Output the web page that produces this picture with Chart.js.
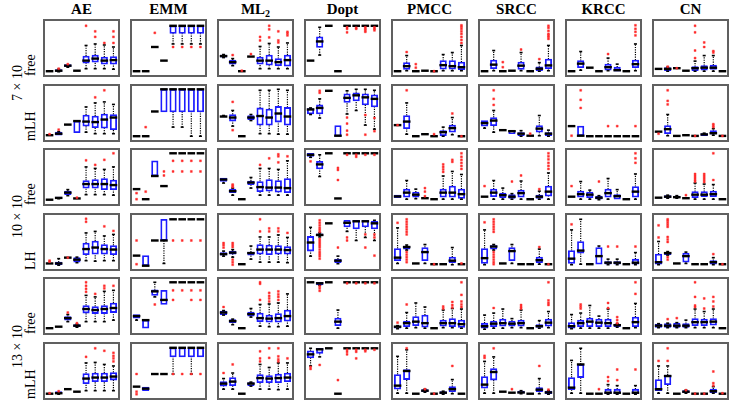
<!DOCTYPE html>
<html>
<head>
<meta charset="utf-8">
<script src="https://cdn.jsdelivr.net/npm/chart.js@4/dist/chart.umd.min.js"></script>
<style>
  body { margin: 0; background: #fff; width: 737px; height: 407px; position: relative; overflow: hidden;
         font-family: "Liberation Serif", "DejaVu Serif", serif; color: #000; }
  .panel { position: absolute; width: 77px; height: 58px; box-sizing: border-box; border: 2px solid #606060; }
  .panel canvas { display: block; }
  .head { position: absolute; top: 1px; width: 87px; text-align: center; font-weight: bold; font-size: 15px; line-height: 16px; }
  .head sub { font-size: 10px; vertical-align: -3px; line-height: 0; }
  .side { position: absolute; font-size: 14px; line-height: 15px; white-space: nowrap;
          transform: rotate(-90deg); transform-origin: 0 0; }
</style>
</head>
<body>
<script>
const columns = ["AE", "EMM", "ML<sub>2</sub>", "Dopt", "PMCC", "SRCC", "KRCC", "CN"];
const rowLabels = ["free", "mLH", "free", "LH", "free", "mLH"];
const groupLabels = ["7 \u00d7 10", "10 \u00d7 10", "13 \u00d7 10"];
const slots = ["1", "2", "3", "4", "5", "6", "7", "8"];

// one box = [lo, q1, med, q3, hi, [outliers]]  or  [value, [outliers]] when all equal
const AE = [
  [[4], [3, 3.5, 5, 7, 8, [9]], [12, 13, 15, 17, 17, [18]], [5], [9, 20, 25, 34, 55, [94]], [9, 22, 29, 36, 58, [72, 83]], [9, 18, 25, 32, 56, [60]], [8, 18, 26, 33, 52, [60, 72, 83]]],
  [[6, [8]], [6, 6, 9, 12, 13, [17]], [27], [11, 11, 34, 34, 34], [12, 24, 33, 46, 62], [9, 21, 32, 44, 70, [81]], [9, 20, 37, 48, 72, [95]], [9, 17, 41, 47, 67]],
  [[5], [7, 7.5, 8.6, 10, 10], [13, 15, 19, 22, 25], [7.5, [9]], [15, 28, 36, 43, 70, [83]], [15, 28, 36, 45, 67, [74]], [15, 25, 36, 47, 65, [84]], [14, 25, 34, 44, 70, [97]]],
  [[7.5, [11, 13]], [4, 5, 7.5, 10, 17], [19, [19]], [9, 10, 15, 19, 20], [13, 25, 36, 48, 68, [90, 96]], [12, 26, 39, 52, 71], [13, 26, 36, 45, 62, [81]], [13, 25, 35, 43, 65, [72]]],
  [[6], [9], [19, 22, 26, 29, 33, [37]], [8, 9, 11, 13, 14, [16]], [19, 36, 44, 51, 71, [78, 84, 90, 97]], [19, 35, 42, 49, 68, [74]], [19, 35, 44, 51, 79, [85, 90]], [22, 37, 46, 56, 81, [90]]],
  [[5, [6]], [4, 5, 6, 9, 9, [10]], [14], [9], [11, 25, 35, 45, 66, [78]], [11, 29, 37, 46, 67, [95]], [11, 29, 37, 46, 63, [90]], [11, 32, 39, 47, 60, [69, 75, 80, 86]]]
];
const EMM = [
  [[4], [4], [52, [80]], [25], [58, 79, 94, 94, 94, [52]], [58, 79, 94, 94, 94, [52]], [58, 79, 94, 94, 94, [52]], [58, 79, 94, 94, 94, [52]]],
  [[4], [4, [22]], [53], [52, 52, 97, 97, 97], [22, 52, 97, 97, 97], [22, 52, 97, 97, 97], [4, 52, 97, 97, 97], [4, 52, 97, 97, 97]],
  [[26, [6, 18]], [6, [21]], [52, 52, 52, 82, 82], [32, [53, 61]], [97, [61, 82]], [97, [61, 82]], [97, [61, 82]], [97, [61, 82]]],
  [[23, [6, 53]], [3, 3, 3, 23, 23], [53], [7.5, 53, 53, 95, 95], [95, [53]], [95, [53]], [95, [53]], [95, [53]]],
  [[22, 26, 30, 33, 33], [6, 6, 22, 22, 22], [68, 71, 79, 82, 97, [53]], [53, 53, 62, 81, 81], [97, [62, 81]], [97, [81]], [97, [62, 81]], [97, [62, 81]]],
  [[19, [4, 9, 44]], [11, 11, 15, 18, 18], [44], [44], [44, 78, 96, 96, 96, [44]], [78, 78, 96, 96, 96, [44]], [44, 78, 96, 96, 96, [44]], [78, 78, 96, 96, 96, [44]]]
];
const ML2 = [
  [[31, 32, 34, 36, 37], [15, 18, 22, 26, 29, [36]], [4, [5]], [33, [38]], [9, 18, 25, 32, 53, [65, 72]], [9, 16, 25, 36, 59, [71, 87, 94]], [9, 15, 22, 29, 52, [61, 65, 83]], [9, 14, 26, 36, 60, [75, 79, 82]]],
  [[42, 42, 43, 44, 45], [24, 34, 41, 47, 55, [16, 72]], [4], [35, 37, 41, 45, 47], [9, 26, 44, 60, 95], [9, 26, 41, 58, 95], [8, 32, 49, 63, 97], [8, 26, 43, 61, 95]],
  [[38, 41, 45, 48, 48], [14, 19, 22, 26, 28, [30, 33, 35]], [6], [28, 35, 39, 42, 49], [14, 21, 30, 41, 67, [74]], [14, 22, 29, 45, 67, [87]], [14, 20, 29, 43, 65, [79, 91, 95]], [14, 19, 28, 47, 82, [91]]],
  [[22, 24, 26, 29, 32, [39, 44, 48]], [20, 26, 29, 32, 35, [5, 10, 15, 40, 44, 48]], [6], [16, 24, 28, 30, 42], [10, 26, 35, 45, 60, [71, 95]], [10, 25, 35, 44, 60, [71, 77]], [10, 26, 35, 43, 64, [71, 77]], [9, 26, 34, 41, 59, [68]]],
  [[32, 33, 37, 40, 41, [48]], [13, 17, 20, 23, 24], [6], [28, 30, 34, 38, 45], [10, 19, 26, 36, 53, [62, 94, 97]], [9, 18, 25, 32, 54, [59, 65, 70, 76]], [9, 18, 26, 35, 56, [62, 68, 73, 79]], [10, 20, 30, 42, 74]],
  [[14, 20, 25, 29, 35, [46]], [14, 21, 29, 37, 46, [63]], [5], [20, 21, 25, 27, 28], [14, 27, 36, 43, 63, [69, 75, 89]], [14, 27, 35, 41, 57, [76, 95]], [13, 27, 36, 44, 66, [69, 73, 79, 95]], [14, 29, 37, 46, 66, [75]]]
];
const Dopt = [
  [[25], [36, 51, 63, 72, 91], [94], [4], [94, [81, 88, 91]], [94, [88, 90]], [94, [82, 85, 88, 91]], [94, [85, 88, 91]]],
  [[47, 48, 57, 59, 60], [40, 48, 60, 66, 78, [90, 94]], [94], [4, 4, 5, 25, 25], [48, 71, 80, 88, 94, [7, 15, 29, 41]], [55, 74, 85, 90, 97], [26, 66, 81, 88, 97, [7, 46]], [18, 62, 78, 86, 95, [14, 40]]],
  [[89, 91, 94, 97, 97, [81]], [51, 66, 75, 81, 94], [97], [7.5, [44, 64, 68]], [97, [94]], [97, [90, 94]], [97, [94]], [97, [94]]],
  [[22, 32, 49, 61, 79], [60, 62, 64, 66, 68, [17, 22, 26, 30, 35, 40, 44, 48, 52, 56, 70, 74, 78, 83, 88, 93]], [87], [7, 9, 13, 16, 22, [39]], [71, 80, 88, 93, 93, [53, 59]], [53, 76, 91, 93, 93], [59, 80, 91, 93, 93, [39, 65]], [53, 76, 87, 91, 93, [23, 59, 65]]],
  [[97], [91, 92, 95, 97, 97, [80, 85, 89]], [97], [6, 11, 19, 26, 42], [97, [95]], [97, [95]], [97, [95]], [97, [95]]],
  [[60, 76, 83, 90, 95, [54, 58]], [78, 85, 93, 95, 95, [62]], [95], [5, [32]], [95, [83, 88, 92]], [95, [75, 88, 92]], [95, [89, 92]], [95, [92]]]
];
const PMCC = [
  [[4], [5, 7.5, 14, 21, 35, [42]], [4, [11, 18]], [5], [4, [4]], [5, 8, 16, 25, 37], [5, 8, 14, 25, 41], [5, 7, 12, 22, 55, [60, 66, 72, 78, 83, 88, 92, 95]]],
  [[26, [26]], [8, 19, 33, 45, 70, [95]], [4], [7, 7, 8, 9, 9], [4, [8]], [4, 5, 12, 15, 22], [7, 12, 20, 26, 41, [49]], [4, [4]]],
  [[9, 9, 11.5, 14, 14], [6, 10, 19, 26, 43], [7, 10, 15, 20, 26], [8, [12, 21, 28]], [6], [6, 10, 19, 26, 52, [60, 65, 70, 75]], [6, 10, 19, 32, 61, [80, 84]], [6, 7.5, 16, 26, 55, [66, 72, 78, 84, 90, 97]]],
  [[7.5, 13, 19, 37, 78, [88]], [34, 36, 40, 42, 44, [10, 15, 20, 25, 30, 65, 70, 75, 80, 85, 90, 95]], [7.5], [7.5, 13, 30, 39, 45], [6, [6]], [6], [5, 9, 13, 20, 39], [6, [7.5]]],
  [[5, 6, 9, 10, 11, [17]], [6, 9, 16, 20, 37, [53]], [7, 11, 19, 29, 56], [6, 8, 16, 32, 48], [6], [7, 10, 16, 22, 42, [45, 49]], [7, 9, 16, 25, 45, [47, 52, 58]], [6, 7.5, 14, 22, 44, [48, 53, 59, 72, 97]]],
  [[6, 14, 21, 43, 79], [6, 33, 50, 53, 92, [95]], [5], [8, 9, 11, 13, 14, [14]], [5, [5]], [4, 5, 7, 9, 10], [5, 9, 14, 19, 33, [60]], [5]]
];
const SRCC = [
  [[4], [5, 9, 17, 26, 45], [4, [12, 22]], [5], [5, 7.5, 15, 22, 41, [47]], [4], [4, 5, 9, 12.6, 21, [28]], [5, 9, 15.5, 28, 55, [68, 72, 75, 78, 84, 90, 94]]],
  [[20, 24, 30, 35, 35], [12, 25, 35, 41, 55, [66, 78, 95]], [16], [9, 9, 14, 15, 15], [4, 5, 9, 11, 15], [5, [9]], [5, 12, 19, 25, 45], [4, 5, 9, 11, 16]],
  [[11, [32]], [6, 11, 19, 26, 43], [6, 9, 14, 18, 28], [6, 7.5, 11, 15, 17, [41]], [6, 10, 18, 24, 42, [53]], [6], [6, 7.5, 11, 14, 22, [26]], [6, 12, 21, 32, 58, [66, 72, 78, 85, 91, 97]]],
  [[5, 7.5, 18, 37, 74, [89]], [34, 36, 41, 43, 45, [6, 10, 15, 20, 25, 30, 70, 75, 80, 85, 90, 95]], [7.5], [7.5, 13, 32, 39, 45], [6], [6], [6, 9, 14, 20, 36, [40]], [6, [6]]],
  [[4, 6, 10, 16, 32], [6, 9, 15, 20, 36, [46]], [6, 10, 16, 24, 44], [7, 10, 15, 20, 25], [7, 10, 16, 22, 42, [45, 48, 52]], [6], [6, 7.5, 10, 13, 21], [7, 10, 17, 24, 39, [52, 56, 61, 97]]],
  [[6, 16, 23, 39, 69, [76, 80]], [6, 32, 48, 55, 78, [95]], [9], [7, [14]], [5, 6, 7.5, 10, 11], [5], [5, 9, 13, 17, 35, [60]], [4, 5, 7.5, 10, 11, [13]]]
];
const KRCC = [
  [[4], [6, 11, 19, 25, 43], [11], [4], [5, 6, 12, 18, 30, [38]], [4, 4, 6, 12, 18], [4], [5, 11, 18, 26, 58, [75, 82, 88, 95]]],
  [[24, [5]], [5, 5, 5, 24, 24, [60, 76, 95]], [4], [4], [4, [24]], [4, [24]], [4], [4, [24]]],
  [[11, [32]], [6, 10, 16, 22, 41], [6, 9, 15, 20, 24], [5, 6, 9, 12, 13, [41]], [6, 10, 18, 26, 47], [6, 6, 12, 15, 25], [6], [6, 10, 21, 31, 56, [78, 87, 97]]],
  [[5, 7.5, 17, 33, 74, [85]], [6, 28, 33, 51, 95], [6], [6, 6, 22, 39, 42], [5, 6, 9, 11, 16, [41]], [5, 6, 9, 11, 16, [41]], [6], [5, 6, 9, 16, 29, [41]]],
  [[5, 6, 10, 17, 33], [6, 9, 16, 22, 36, [45, 49, 53]], [6, 9, 19, 26, 51], [6, 9, 17, 24, 30], [6, 9, 16, 24, 44, [46, 56]], [8, 9, 12, 14, 15, [16, 22, 28]], [6], [7, 9, 18, 28, 55, [74, 97]]],
  [[6, 13, 17, 37, 71], [6, 37, 63, 63, 95], [5], [5, [14]], [4, 5, 7, 14, 23, [30, 38]], [4, 5, 7, 14, 21, [32, 53]], [5], [4, 5, 7, 14, 21, [53]]]
];
const CN = [
  [[8.6], [4, 5, 8.6, 11, 12, [13]], [10, [10]], [5], [4, 5, 10, 13, 24, [30, 45, 81, 94]], [4, 6, 11, 15, 35, [52, 61]], [4, 7.5, 11, 16, 35, [41, 44]], [4]],
  [[13, [9]], [5, 9, 18, 25, 47, [67, 74, 95]], [4.6], [6], [4.6, [4.6]], [5, 5, 7.5, 9, 10], [6, 8, 10, 15, 19, [22, 25, 28]], [4.6, [4.6]]],
  [[9], [8, 9, 11, 13, 14], [8, 9, 10, 12, 13], [8, [14]], [6, 9, 15, 21, 38, [41, 44, 48, 52, 56]], [6, 11, 15, 21, 36, [40, 44, 48, 52, 56]], [6, 11, 16, 22, 35, [44, 97]], [6]],
  [[5, 6, 10, 26, 51, [59, 83]], [24, 25, 28, 29, 31, [15, 20, 50, 55, 60, 80, 84, 88, 92, 95]], [7.5], [7.5, 10, 22, 28, 30], [6], [6], [5, 6, 10, 13, 19, [26]], [6, [6]]],
  [[7, 7.5, 11, 14, 15], [7, 7.5, 11, 15, 16, [24]], [7, 7.5, 11, 16, 17, [26]], [7, 7.5, 11, 15, 22], [7, 11, 18, 25, 44, [48, 51, 68, 97]], [7, 11, 18, 24, 39, [45, 65]], [7, 12, 19, 25, 44, [49, 59, 68]], [6]],
  [[6, 11, 14, 33, 60, [70]], [6, 23, 40, 42, 60, [70, 95]], [5], [6, 7, 9, 11, 12, [12]], [5, [5]], [5, [5]], [6, 7, 10, 14, 19, [21, 26, 49]], [5, [6]]]
];
const panels = [AE, EMM, ML2, Dopt, PMCC, SRCC, KRCC, CN];

const colLeft = 43, colStep = 87;
const rowTop = 19, rowStep = 64.6;
const panelW = 77, panelH = 58;

function parseBox(b) {
  if (b.length <= 2) {
    let v = b[0];
    return { lo: v, q1: v, med: v, q3: v, hi: v, outs: b[1] || [], flat: true };
  }
  return { lo: b[0], q1: b[1], med: b[2], q3: b[3], hi: b[4], outs: b[5] || [], flat: false };
}

function addDiv(cls, html, left, top) {
  let d = document.createElement("div");
  d.className = cls;
  d.innerHTML = html;
  d.style.left = left + "px";
  d.style.top = top + "px";
  document.body.appendChild(d);
  return d;
}

function makePanel(left, top, boxes) {
  let wrap = addDiv("panel", "", left, top);
  let canvas = document.createElement("canvas");
  canvas.width = panelW - 4;
  canvas.height = panelH - 4;
  wrap.appendChild(canvas);

  let B = boxes.map(parseBox);
  let whisk = [], caps = [], meds = [], outs = [];
  let boxData = B.map((b) => (b.flat ? null : [b.q1, b.q3]));
  B.forEach((b, i) => {
    let x = slots[i];
    if (b.lo < b.q1) {
      whisk.push({ x: x, y: b.lo }, { x: x, y: b.q1 }, { x: x, y: null });
      caps.push({ x: x, y: b.lo });
    }
    if (b.hi > b.q3) {
      whisk.push({ x: x, y: b.q3 }, { x: x, y: b.hi }, { x: x, y: null });
      caps.push({ x: x, y: b.hi });
    }
    meds.push({ x: x, y: b.med });
    b.outs.forEach((v) => outs.push({ x: x, y: v }));
  });

  new Chart(canvas.getContext("2d"), {
    type: "bar",
    data: {
      labels: slots,
      datasets: [
        {
          type: "line",
          data: outs,
          showLine: false,
          pointStyle: "rect",
          pointRadius: 1.4,
          pointBackgroundColor: "#ff2a2a",
          pointBorderColor: "#ff2a2a",
          pointBorderWidth: 0.4,
          order: 0,
          clip: false,
        },
        {
          type: "line",
          data: meds,
          showLine: false,
          pointStyle: "line",
          pointRadius: 3.8,
          pointBorderColor: "#000",
          pointBorderWidth: 2.4,
          order: 1,
          clip: false,
        },
        {
          type: "line",
          data: caps,
          showLine: false,
          pointStyle: "line",
          pointRadius: 1.5,
          pointBorderColor: "#000",
          pointBorderWidth: 1.6,
          order: 2,
        },
        {
          data: boxData,
          backgroundColor: "#fff",
          borderColor: "#1c1cff",
          borderWidth: 1.8,
          borderSkipped: false,
          barThickness: 6.5,
          order: 3,
        },
        {
          type: "line",
          data: whisk,
          borderColor: "#000",
          borderWidth: 1.2,
          borderDash: [1.2, 1.2],
          pointRadius: 0,
          spanGaps: false,
          order: 4,
        },
      ],
    },
    options: {
      responsive: false,
      animation: false,
      events: [],
      layout: { padding: 0, autoPadding: false },
      plugins: { legend: { display: false }, tooltip: { enabled: false } },
      scales: {
        x: { type: "category", offset: true, display: false },
        y: { min: -3.5, max: 103.5, display: false },
      },
    },
  });
}

columns.forEach((name, c) => {
  addDiv("head", name, colLeft + c * colStep - 5, 1);
});

rowLabels.forEach((name, r) => {
  let bottom = rowTop + r * rowStep + panelH - 1;
  addDiv("side", name, 23, bottom);
});

let groupBottoms = [101, 238, 368];
groupLabels.forEach((name, g) => {
  addDiv("side", name, 10, groupBottoms[g]);
});

panels.forEach((col, c) => {
  col.forEach((boxes, r) => {
    makePanel(colLeft + c * colStep, Math.round(rowTop + r * rowStep), boxes);
  });
});
</script>
</body>
</html>
